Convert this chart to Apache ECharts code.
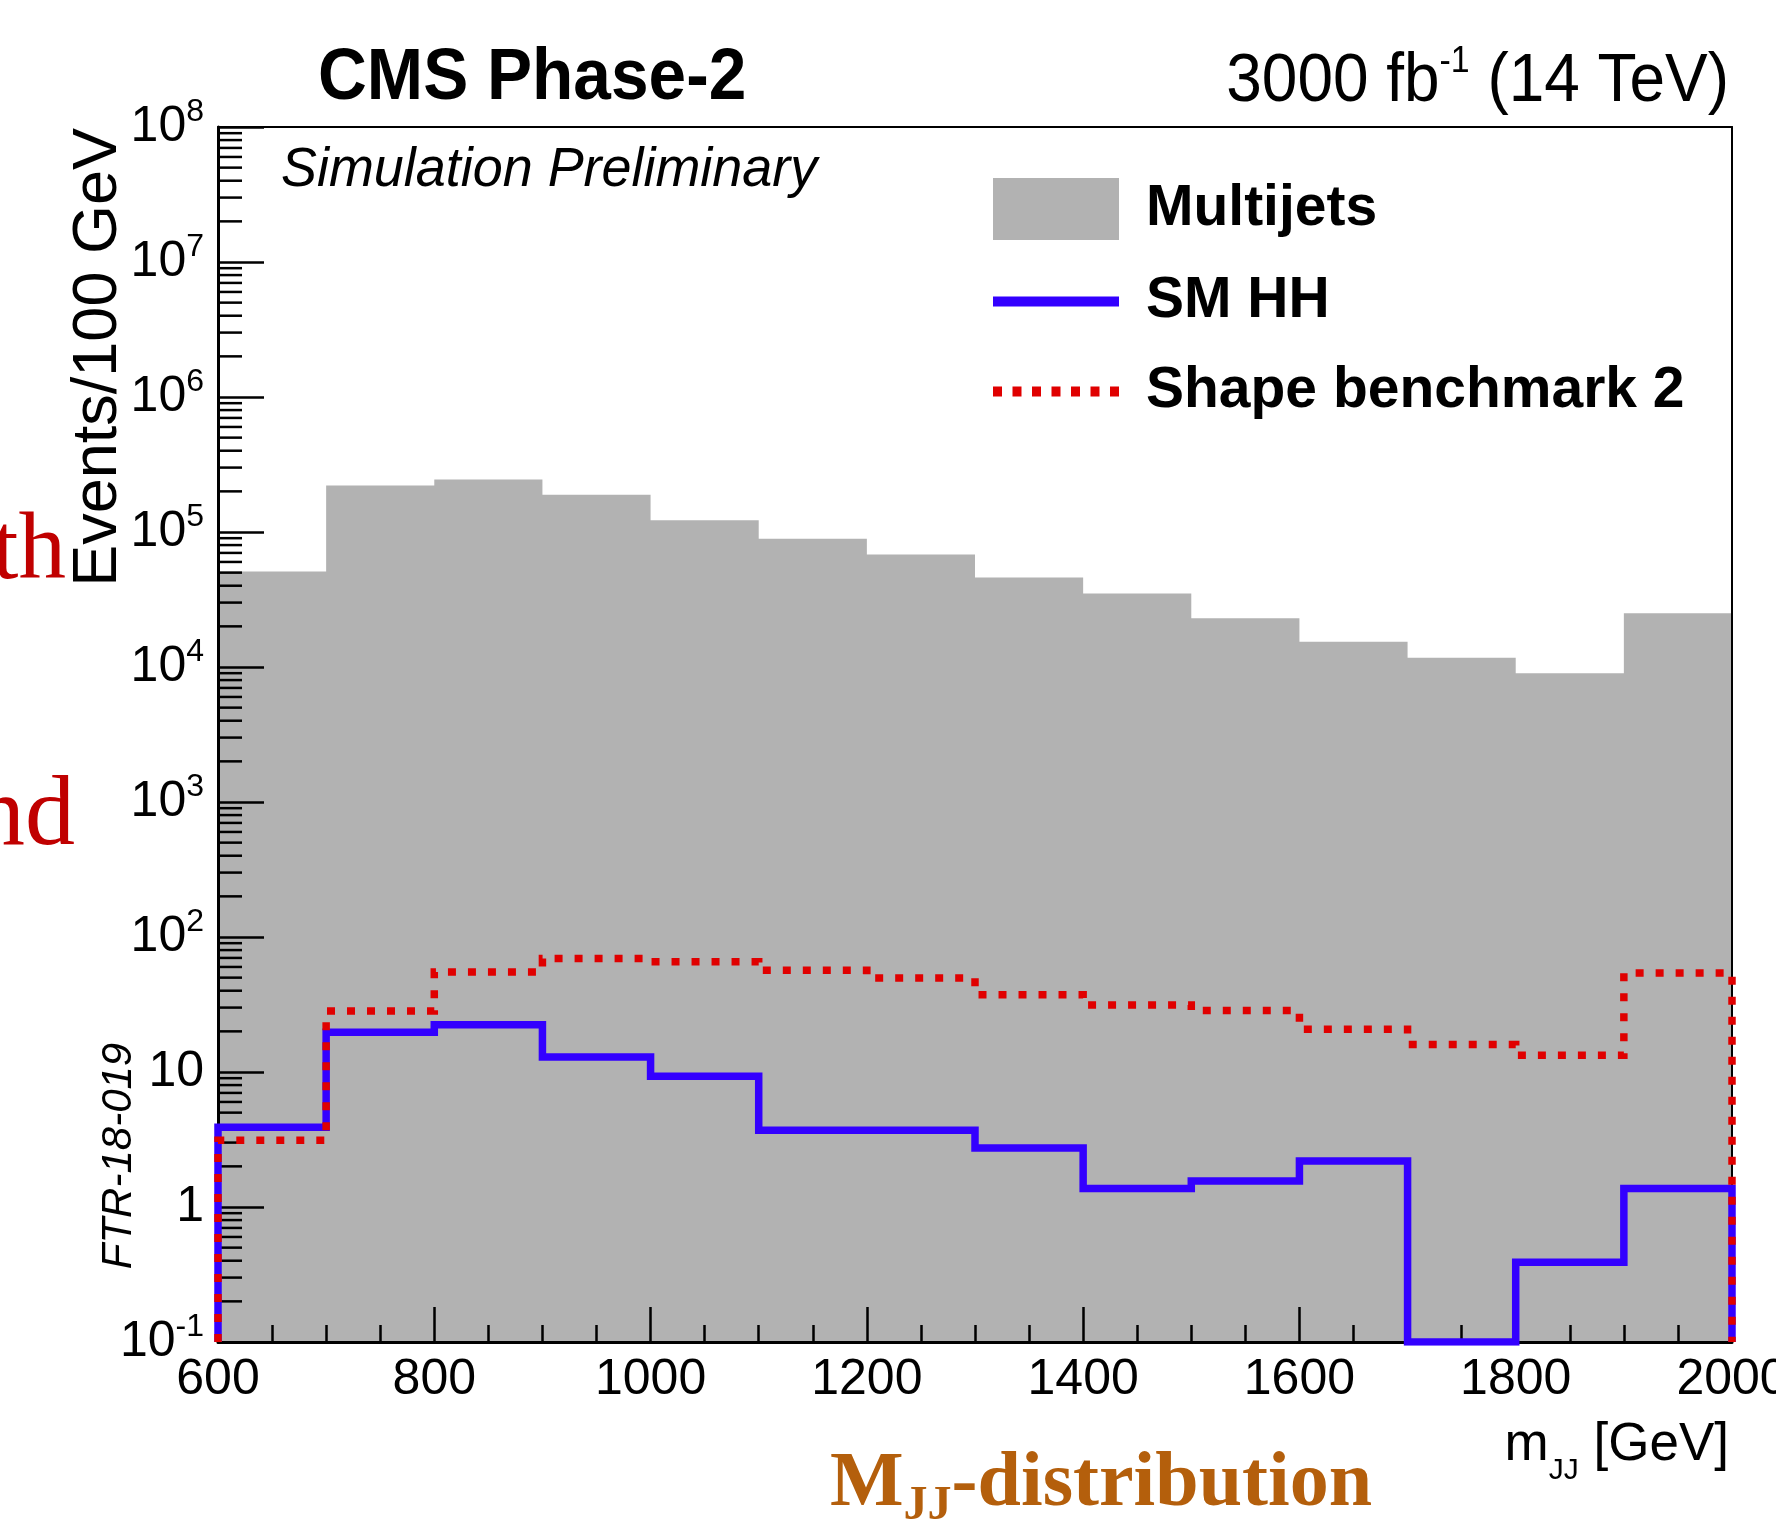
<!DOCTYPE html>
<html><head><meta charset="utf-8">
<script src="https://cdn.jsdelivr.net/npm/echarts@6/dist/echarts.min.js"></script>
<style>html,body{margin:0;padding:0;background:#fff}#c{width:1776px;height:1539px}</style>
</head><body><div id="c"></div>
<script>
// ---- data ----
const binEdges = [600, 700, 800, 900, 1000, 1100, 1200, 1300, 1400, 1500, 1600, 1700, 1800, 1900, 2000];
const multijets = [5.1e4, 2.21e5, 2.45e5, 1.89e5, 1.22e5, 8.9e4, 6.8e4, 4.6e4, 3.5e4, 2.3e4, 1.54e4, 1.17e4, 9.0e3, 2.5e4];
const smHH = [3.9, 19.7, 22.4, 12.9, 9.3, 3.7, 3.7, 2.74, 1.37, 1.56, 2.19, 0, 0.39, 1.37];
const benchmark2 = [3.12, 28.3, 55.1, 69.2, 65.7, 56.6, 49.7, 37.4, 31.3, 28.6, 20.7, 16.0, 13.3, 54.1];
const seriesNames = ['Multijets', 'SM HH', 'Shape benchmark 2'];
const xMin = 600, xMax = 2000, xInterval = 200;
const yMin = 0.1, yMax = 1e8;
const yMinorMultipliers = [2, 3, 4, 5, 6, 7, 8, 9];
const yDecades = [-1, 0, 1, 2, 3, 4, 5, 6, 7];

const FONT = "'Liberation Sans', Arial, Helvetica, sans-serif";
const SERIF = "'Liberation Serif', 'Times New Roman', serif";
const GRAY = '#b2b2b2', BLUE = '#3300ff', RED = '#e00000';

function histPoints(vals, closed) {
  const pts = [];
  const last = binEdges[binEdges.length - 1];
  if (closed) pts.push([binEdges[0], yMin]);
  vals.forEach((v, i) => pts.push([binEdges[i], Math.max(v, yMin)]));
  pts.push([last, Math.max(vals[vals.length - 1], yMin)]);
  if (closed) pts.push([last, yMin]);
  return pts;
}
const minorTickValues = [];
yDecades.forEach(k => yMinorMultipliers.forEach(m => minorTickValues.push(Number((m * Math.pow(10, k)).toPrecision(3)))));

function yLabel(v) {
  const e = Math.round(Math.log10(v));
  if (e === 0) return '1';
  if (e === 1) return '10';
  return '{b|10}{s|' + e + '}';
}

const chart = echarts.init(document.getElementById('c'), null, {renderer: 'canvas'});
chart.setOption({
  animation: false,
  backgroundColor: '#fff',
  grid: {left: 218, top: 127, width: 1514, height: 1215, containLabel: false, outerBoundsMode: 'none', show: false},
  xAxis: [{
    type: 'value', min: xMin, max: xMax, interval: xInterval, z: 5,
    name: '{m|m}{j|JJ}{m| [GeV]}', nameLocation: 'end', nameGap: -3, nameMoveOverlap: false,
    nameTextStyle: {fontFamily: FONT, fontSize: 53, color: '#000', align: 'right', verticalAlign: 'top', padding: [84, 0, 0, 0],
      rich: {m: {fontFamily: FONT, fontSize: 53, lineHeight: 60, padding: [0, 0, 14, 0], verticalAlign: 'bottom', color: '#000'},
             j: {fontFamily: FONT, fontSize: 30, lineHeight: 30, verticalAlign: 'bottom', color: '#000'}}},
    axisLine: {show: true, onZero: false, lineStyle: {color: '#000', width: 3}},
    axisTick: {show: true, inside: true, length: 35, lineStyle: {color: '#000', width: 2.5}},
    minorTick: {show: true, splitNumber: 4, length: 17, lineStyle: {color: '#000', width: 2.5}},
    axisLabel: {fontFamily: FONT, fontSize: 50, color: '#000', margin: 13, formatter: v => String(v)},
    splitLine: {show: false}, minorSplitLine: {show: false}
  }, {
    type: 'value', min: xMin, max: xMax, position: 'top', z: 5,
    axisLine: {show: true, onZero: false, lineStyle: {color: '#000', width: 2}},
    axisTick: {show: false}, axisLabel: {show: false}, splitLine: {show: false}
  }],
  yAxis: [{
    type: 'log', logBase: 10, min: yMin, max: yMax, splitNumber: 9, z: 5,
    name: 'Events/100 GeV', nameLocation: 'end', nameGap: -1, nameRotate: 90, nameMoveOverlap: false,
    nameTextStyle: {fontFamily: FONT, fontSize: 63, color: '#000', align: 'right', verticalAlign: 'bottom', padding: [0, 0, 88, 0]},
    axisLine: {show: true, onZero: false, lineStyle: {color: '#000', width: 3}},
    axisTick: {show: true, inside: true, length: 46, lineStyle: {color: '#000', width: 2.5}},
    axisLabel: {fontFamily: FONT, fontSize: 50, color: '#000', margin: 14, formatter: yLabel,
      rich: {b: {fontFamily: FONT, fontSize: 50, lineHeight: 62, color: '#000'},
             s: {fontFamily: FONT, fontSize: 32, lineHeight: 34, verticalAlign: 'top', color: '#000'}}},
    splitLine: {show: false}
  }, {
    type: 'value', min: 0, max: 1, position: 'right', z: 5,
    axisLine: {show: true, onZero: false, lineStyle: {color: '#000', width: 2}},
    axisTick: {show: false}, axisLabel: {show: false}, splitLine: {show: false}
  }],
  legend: {
    orient: 'vertical', left: 993, top: 178, padding: 0, itemWidth: 126, itemHeight: 62, itemGap: 33,
    selectedMode: false,
    textStyle: {fontFamily: FONT, fontSize: 57, fontWeight: 'bold', color: '#000', padding: [0, 0, 0, 22]},
    data: [
      {name: seriesNames[0], icon: 'rect', itemStyle: {color: GRAY, borderWidth: 0}},
      {name: seriesNames[1], icon: 'path://M0,0H126V10H0Z', itemStyle: {color: BLUE, borderWidth: 0}},
      {name: seriesNames[2], icon: 'path://M0,0h9v10h-9zM19.5,0h9v10h-9zM39,0h9v10h-9zM58.5,0h9v10h-9zM78,0h9v10h-9zM97.5,0h9v10h-9zM117,0h9v10h-9z', itemStyle: {color: RED, borderWidth: 0}}
    ]
  },
  series: [{
    name: seriesNames[0], type: 'line', step: 'end', z: 2, color: GRAY,
    symbol: 'none', data: histPoints(multijets, false),
    lineStyle: {width: 0}, areaStyle: {color: GRAY, opacity: 1, origin: 'start'}
  }, {
    name: 'minor ticks', type: 'custom', z: 6, silent: true,
    data: minorTickValues.map(v => [xMin, v]),
    renderItem: (params, api) => {
      const p = api.coord([api.value(0), api.value(1)]);
      return {type: 'line', shape: {x1: p[0], y1: p[1], x2: p[0] + 24, y2: p[1]}, style: {stroke: '#000', lineWidth: 2.5}};
    }
  }, {
    name: seriesNames[1], type: 'line', step: 'end', z: 7, color: BLUE,
    symbol: 'none', data: histPoints(smHH, true),
    lineStyle: {color: BLUE, width: 7.5, join: 'miter', cap: 'butt'}
  }, {
    name: seriesNames[2], type: 'line', step: 'end', z: 8, color: RED,
    symbol: 'none', data: histPoints(benchmark2, true),
    lineStyle: {color: RED, width: 7.5, type: [8, 12], join: 'miter', cap: 'butt'}
  }],
  graphic: [
    {type: 'text', x: 318, y: 78.5, scaleX: 0.926, style: {text: 'CMS Phase-2', fontFamily: FONT, fontSize: 73, fontWeight: 'bold', fill: '#000', align: 'left', verticalAlign: 'middle'}},
    {type: 'text', x: 1729, y: 82, scaleX: 0.94, style: {text: '{a|3000 fb}{s|-1}{a| (14 TeV)}', align: 'right', verticalAlign: 'middle',
      rich: {a: {fontFamily: FONT, fontSize: 68, lineHeight: 76, fill: '#000'},
             s: {fontFamily: FONT, fontSize: 36, lineHeight: 46, verticalAlign: 'top', fill: '#000'}}}},
    {type: 'text', x: 281, y: 171, scaleX: 0.98, style: {text: 'Simulation Preliminary', fontFamily: FONT, fontSize: 55, fontStyle: 'italic', fill: '#000', align: 'left', verticalAlign: 'middle'}},
    {type: 'text', x: 119, y: 1156, rotation: Math.PI / 2, style: {text: 'FTR-18-019', fontFamily: FONT, fontSize: 42, fontStyle: 'italic', fill: '#000', align: 'center', verticalAlign: 'middle'}},
    {type: 'text', x: 66, y: 553, style: {text: 'th', fontFamily: SERIF, fontSize: 95, fill: '#c00000', align: 'right', verticalAlign: 'middle'}},
    {type: 'text', x: 75, y: 818, style: {text: 'nd', fontFamily: SERIF, fontSize: 100, fill: '#c00000', align: 'right', verticalAlign: 'middle'}},
    {type: 'text', x: 830, y: 1445, style: {text: '{M|M}{j|JJ}{d|-distribution}', align: 'left', verticalAlign: 'top',
      rich: {M: {fontFamily: SERIF, fontSize: 78, fontWeight: 'bold', lineHeight: 86, padding: [0, 0, 7, 0], verticalAlign: 'bottom', fill: '#b45f0c'},
             j: {fontFamily: SERIF, fontSize: 48, fontWeight: 'bold', lineHeight: 48, verticalAlign: 'bottom', fill: '#b45f0c'},
             d: {fontFamily: SERIF, fontSize: 78, fontWeight: 'bold', lineHeight: 86, padding: [0, 0, 7, 0], verticalAlign: 'bottom', fill: '#b45f0c'}}}}
  ]
});
</script>
</body></html>
